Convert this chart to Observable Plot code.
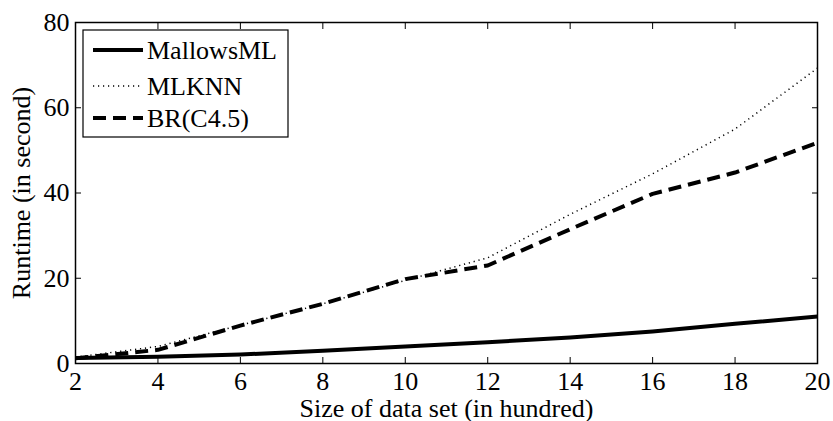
<!DOCTYPE html>
<html>
<head>
<meta charset="utf-8">
<script src="https://cdn.jsdelivr.net/npm/d3@7"></script>
<script src="https://cdn.jsdelivr.net/npm/@observablehq/plot@0.6"></script>
<style>
  html, body { margin: 0; padding: 0; background: #fff; }
  #wrap { position: relative; width: 833px; height: 421px; }
  #wrap svg { display: block; }
  #legend { position: absolute; left: 0; top: 0; pointer-events: none; }
</style>
</head>
<body>
<div id="wrap"></div>
<script>
const sizes = [2, 4, 6, 8, 10, 12, 14, 16, 18, 20];
const mallowsML = [1.3, 1.6, 2.1, 3.0, 4.0, 5.0, 6.1, 7.5, 9.3, 11.0];
const mlknn = [1.5, 4.0, 9.0, 14.0, 19.5, 24.8, 35.0, 44.5, 55.0, 69.3];
const brC45 = [1.2, 3.2, 8.9, 14.0, 19.8, 23.0, 31.5, 39.8, 44.8, 51.8];
const seriesNames = ["MallowsML", "MLKNN", "BR(C4.5)"];
const xTicks = [2, 4, 6, 8, 10, 12, 14, 16, 18, 20];
const yTicks = [0, 20, 40, 60, 80];

const FONT = "Liberation Serif";
const styles = {
  "MallowsML": {strokeWidth: 4, dash: null},
  "MLKNN": {strokeWidth: 1.5, dash: "1.2,3.8"},
  "BR(C4.5)": {strokeWidth: 4, dash: "13,7"}
};
const values = {"MallowsML": mallowsML, "MLKNN": mlknn, "BR(C4.5)": brC45};

const lineMarks = seriesNames.map(name => Plot.line(
  sizes.map((s, i) => ({x: s, y: values[name][i]})),
  {x: "x", y: "y", stroke: "black", strokeWidth: styles[name].strokeWidth,
   strokeDasharray: styles[name].dash, strokeLinejoin: "round", strokeLinecap: "butt"}
));

const plot = Plot.plot({
  width: 833,
  height: 421,
  marginLeft: 75,
  marginRight: 16,
  marginTop: 22,
  marginBottom: 58,
  style: {fontFamily: FONT, fontSize: "26px", color: "black", background: "white"},
  x: {domain: [2, 20]},
  y: {domain: [0, 80]},
  marks: [
    ...lineMarks,
    Plot.frame({stroke: "black", strokeWidth: 1.5}),
    Plot.axisX({anchor: "bottom", ticks: xTicks, tickSize: 0, tickPadding: 8, fontSize: 26,
      label: "Size of data set (in hundred)", labelAnchor: "center", labelOffset: 53, labelArrow: "none"}),
    Plot.axisX({anchor: "bottom", ticks: xTicks, tickSize: -6, tickFormat: () => "", label: null, strokeWidth: 1}),
    Plot.axisX({anchor: "top", ticks: xTicks, tickSize: -6, tickFormat: () => "", label: null, strokeWidth: 1}),
    Plot.axisY({anchor: "left", ticks: yTicks, tickSize: 0, tickPadding: 6, fontSize: 26,
      label: "Runtime (in second)", labelAnchor: "center", labelOffset: 64, labelArrow: "none"}),
    Plot.axisY({anchor: "left", ticks: yTicks, tickSize: -6, tickFormat: () => "", label: null, strokeWidth: 1}),
    Plot.axisY({anchor: "right", ticks: yTicks, tickSize: -6, tickFormat: () => "", label: null, strokeWidth: 1})
  ]
});
const wrap = document.getElementById("wrap");
wrap.appendChild(plot);

// legend overlay
const lg = d3.select(wrap).append("svg").attr("id", "legend")
  .attr("width", 833).attr("height", 421);
lg.append("rect").attr("x", 83).attr("y", 30).attr("width", 205).attr("height", 107)
  .attr("fill", "white").attr("stroke", "black").attr("stroke-width", 1.2);
const rowY = [50, 86, 118];
seriesNames.forEach((name, i) => {
  lg.append("line").attr("x1", 93).attr("x2", 143).attr("y1", rowY[i]).attr("y2", rowY[i])
    .attr("stroke", "black").attr("stroke-width", styles[name].strokeWidth)
    .attr("stroke-dasharray", styles[name].dash);
  lg.append("text").attr("x", 147).attr("y", rowY[i] + 8.5)
    .attr("font-family", FONT)
    .attr("font-size", 26).text(name);
});
</script>
</body>
</html>
